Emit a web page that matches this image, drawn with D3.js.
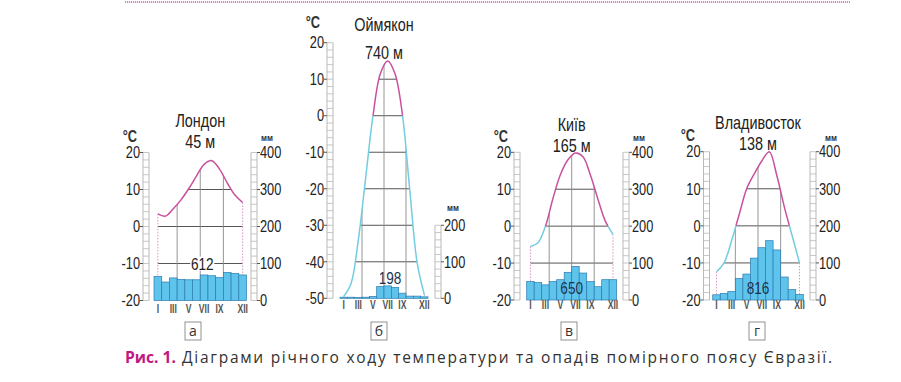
<!DOCTYPE html>
<html><head><meta charset="utf-8">
<script src="https://cdn.jsdelivr.net/npm/d3@7"></script>
<style>
body{margin:0;background:#fff;}
svg{display:block;}
</style></head><body>
<svg id="chart" width="901" height="382"></svg>
<script>
const months = ["I","II","III","IV","V","VI","VII","VIII","IX","X","XI","XII"];
const monthLabels = ["I","III","V","VII","IX","XII"];
const stationNames = ["Лондон","Оймякон","Київ","Владивосток"];
const stationHeights = ["45 м","740 м","165 м","138 м"];
const annualTotals = ["612","198","650","816"];
const panelLetters = ["а","б","в","г"];
const tempLondon = [3.4, 2.8, 4.8, 7.2, 10.2, 13.6, 16.8, 17.8, 15.5, 11.8, 8.5, 6.5];
const tempOymyakon = [-49.5, -46, -34, -17, 0, 11.5, 15, 11.5, 0.5, -20, -40, -49];
const tempKyiv = [-5.5, -4.5, 0, 7.5, 14, 18, 19.8, 18.8, 13.8, 7.3, 1.3, -2.2];
const tempVladivostok = [-12.4, -10, -4, 3, 10, 14, 17.5, 20, 13.5, 5, -2.5, -10];
const precipLondon = [65, 50, 61, 57, 56, 56, 69, 67, 62, 76, 73, 69];
const precipOymyakon = [3, 3, 2, 3, 5, 32, 34, 30, 14, 6, 6, 4];
const precipKyiv = [50, 47, 41, 50, 55, 75, 91, 73, 50, 36, 55, 55];
const precipVladivostok = [14, 18, 23, 58, 70, 113, 141, 160, 135, 62, 28, 15];
const tempTicksStd = [20, 10, 0, -10, -20];
const tempTicksOymyakon = [20, 10, 0, -10, -20, -30, -40, -50];
const precipTicksStd = [0, 100, 200, 300, 400];
const precipTicksOymyakon = [0, 100, 200];
const captionLabel = "Рис. 1.";
const captionText = "Діаграми річного ходу температури та опадів помірного поясу Євразії.";

const temps = [tempLondon, tempOymyakon, tempKyiv, tempVladivostok];
const precips = [precipLondon, precipOymyakon, precipKyiv, precipVladivostok];
const tTicks = [tempTicksStd, tempTicksOymyakon, tempTicksStd, tempTicksStd];
const pTicks = [precipTicksStd, precipTicksOymyakon, precipTicksStd, precipTicksStd];

// layout (positions only)
const layout = [
  {x0:154, x1:246.5, yTop:152.5, yBot:300.5, lr:143, rr:251, t1:127, t2:148, degX:137, degY:141.5, mmX:267, mmY:141, totT:-10, totBg:true, totDx:2, letX:193, mlDy:12.5},
  {x0:340, x1:428, yTop:42.7, yBot:298.3, lr:327, rr:435, t1:31, t2:59, degX:320, degY:27.5, mmX:453, mmY:211, totT:-44.3, totBg:false, totDx:6, letX:379, mlDy:10.5},
  {x0:526.7, x1:616.7, yTop:152.3, yBot:300, lr:514, rr:623, t1:131, t2:152, degX:508, degY:141.5, mmX:639, mmY:141, totT:-16.8, totBg:false, totDx:0, letX:569, mlDy:9},
  {x0:712.7, x1:803.3, yTop:151.7, yBot:300, lr:703.5, rr:810, t1:128.5, t2:149.5, degX:695, degY:141, mmX:831, mmY:140.5, totT:-16.8, totBg:false, totDx:0, letX:757, mlDy:9}
];

const FONT = "'Liberation Sans', Arial, sans-serif";
const SX = 0.8;
function ctext(sel, x, y, txt, o = {}) {
  return sel.append("text")
    .attr("transform", `translate(${x},${y}) scale(${o.sx || SX},1)`)
    .attr("dy", o.dy || null)
    .attr("text-anchor", o.anchor || "middle")
    .attr("font-family", FONT)
    .attr("font-size", o.size || 16)
    .attr("font-weight", o.weight || "normal")
    .attr("fill", o.fill || "#222")
    .text(txt);
}

const svg = d3.select("#chart");
const defs = svg.append("defs");
const MAG = "#c8509e", CYAN = "#72cde0", BARF = "#5ec4ec", BARS = "#2c7bb0";

// top dotted rule
svg.append("line").attr("x1",125).attr("x2",850).attr("y1",2).attr("y2",2)
  .attr("stroke","#dc86c8").attr("stroke-width",2.2).attr("stroke-dasharray","1.2,0.8");

layout.forEach((L, i) => {
  const tv = tTicks[i], pv = pTicks[i];
  const tMin = d3.min(tv), tMax = d3.max(tv), pMax = d3.max(pv);
  const y = d3.scaleLinear().domain([tMin, tMax]).range([L.yBot, L.yTop]);
  const pxPerDeg = (L.yBot - L.yTop) / (tMax - tMin);
  const p = d3.scaleLinear().domain([0, pMax]).range([L.yBot, L.yBot - pMax / 10 * pxPerDeg]);
  const xb = d3.scaleBand().domain(months).range([L.x0, L.x1]).padding(0);
  const xc = m => xb(m) + xb.bandwidth() / 2;
  const g = svg.append("g");
  const T = temps[i], P = precips[i];
  const pts = months.map((m, k) => [xc(m), y(T[k])]);

  const area = d3.area().x(d => d[0]).y0(L.yBot).y1(d => d[1]).curve(d3.curveCatmullRom.alpha(0.5));
  defs.append("clipPath").attr("id","under"+i).append("path").attr("d", area(pts));
  defs.append("clipPath").attr("id","above"+i).append("rect")
    .attr("x",0).attr("y",0).attr("width",901).attr("height",y(0));
  defs.append("clipPath").attr("id","below"+i).append("rect")
    .attr("x",0).attr("y",y(0)).attr("width",901).attr("height",400);

  // grid
  const grid = g.append("g").attr("clip-path","url(#under"+i+")");
  grid.selectAll("line.h").data(tv.filter(t => t > tMin)).join("line")
    .attr("x1",L.x0).attr("x2",L.x1).attr("y1",d=>y(d)).attr("y2",d=>y(d))
    .attr("stroke","#2a2a2a").attr("stroke-width",0.8);
  grid.selectAll("line.v").data([0.25,0.5,0.75]).join("line")
    .attr("x1",d=>L.x0+(L.x1-L.x0)*d).attr("x2",d=>L.x0+(L.x1-L.x0)*d)
    .attr("y1",L.yTop).attr("y2",L.yBot)
    .attr("stroke","#8a8a8a").attr("stroke-width",0.9);

  // dotted edge lines
  [0, 11].forEach(k => {
    g.append("line").attr("x1",pts[k][0]).attr("x2",pts[k][0])
      .attr("y1",pts[k][1]).attr("y2",L.yBot)
      .attr("stroke","#d49ac6").attr("stroke-width",1).attr("stroke-dasharray","1.5,1.5");
  });

  // bars
  g.selectAll("rect.bar").data(P).join("rect")
    .attr("x",(d,k)=>xb(months[k])).attr("width",xb.bandwidth())
    .attr("y",d=>p(d)).attr("height",d=>L.yBot-p(d))
    .attr("fill",BARF).attr("stroke",BARS).attr("stroke-width",0.7);

  // total label
  const tx = (L.x0+L.x1)/2 + L.totDx, ty = y(L.totT);
  if (L.totBg) {
    g.append("rect").attr("x",tx-12).attr("y",ty-7).attr("width",24).attr("height",14).attr("fill","#fff");
  }
  ctext(g, tx, ty, annualTotals[i], {size:17, dy:"0.36em", fill: L.totBg ? "#222" : "#1d3550"});

  // temperature curve
  const line = d3.line().curve(d3.curveCatmullRom.alpha(0.5));
  g.append("path").attr("d",line(pts)).attr("fill","none").attr("stroke",MAG).attr("stroke-width",1.5)
    .attr("clip-path","url(#above"+i+")");
  g.append("path").attr("d",line(pts)).attr("fill","none").attr("stroke",CYAN).attr("stroke-width",1.5)
    .attr("clip-path","url(#below"+i+")");

  // left ruler
  const rw = 6, rc = "#b9b9b9";
  const lg = g.append("g");
  lg.append("line").attr("x1",L.lr).attr("x2",L.lr).attr("y1",y(tMax)).attr("y2",y(tMin)).attr("stroke",rc);
  lg.append("line").attr("x1",L.lr+rw).attr("x2",L.lr+rw).attr("y1",y(tMax)).attr("y2",y(tMin)).attr("stroke",rc);
  lg.selectAll("line.m").data(d3.range(tMin, tMax + 0.01, 2)).join("line")
    .attr("x1",L.lr).attr("x2",L.lr+rw).attr("y1",d=>y(d)).attr("y2",d=>y(d)).attr("stroke",rc).attr("stroke-width",0.8);
  lg.selectAll("line.M").data(tv).join("line")
    .attr("x1",L.lr-3).attr("x2",L.lr).attr("y1",d=>y(d)).attr("y2",d=>y(d)).attr("stroke","#555");
  tv.forEach(d => ctext(lg, L.lr-3, y(d), d, {anchor:"end", dy:"0.36em", size:16}));

  // right ruler
  const rg = g.append("g");
  rg.append("line").attr("x1",L.rr).attr("x2",L.rr).attr("y1",p(pMax)).attr("y2",p(0)).attr("stroke",rc);
  rg.append("line").attr("x1",L.rr+rw).attr("x2",L.rr+rw).attr("y1",p(pMax)).attr("y2",p(0)).attr("stroke",rc);
  rg.selectAll("line.m").data(d3.range(0, pMax + 0.01, 20)).join("line")
    .attr("x1",L.rr).attr("x2",L.rr+rw).attr("y1",d=>p(d)).attr("y2",d=>p(d)).attr("stroke",rc).attr("stroke-width",0.8);
  rg.selectAll("line.M").data(pv).join("line")
    .attr("x1",L.rr+rw).attr("x2",L.rr+rw+3).attr("y1",d=>p(d)).attr("y2",d=>p(d)).attr("stroke","#555");
  pv.forEach(d => ctext(rg, L.rr+rw+3, p(d), d, {anchor:"start", dy:"0.36em", size:16}));

  // unit labels
  ctext(g, L.degX, L.degY, "°C", {anchor:"end", size:16, weight:"bold", fill:"#333"});
  ctext(g, L.mmX, L.mmY, "мм", {size:9.5, weight:"bold", fill:"#333", sx:0.85});

  // titles
  const cx = (L.x0+L.x1)/2;
  ctext(g, cx, L.t1, stationNames[i], {size:18});
  ctext(g, cx, L.t2, stationHeights[i], {size:18});

  // month labels
  monthLabels.forEach(d => ctext(g, xc(d), L.yBot+L.mlDy, d, {size:12, weight:"bold", fill:"#555", sx:0.72}));

  // panel letter box
  g.append("rect").attr("x",L.letX-8).attr("y",322).attr("width",16).attr("height",18)
    .attr("fill","none").attr("stroke","#777").attr("stroke-width",0.8);
  g.append("text").attr("x",L.letX).attr("y",336).attr("text-anchor","middle")
    .attr("font-family","'Open Sans',sans-serif").attr("font-size",14).attr("fill","#333").text(panelLetters[i]);
});

// caption
svg.append("text").attr("x",125).attr("y",363).attr("font-family","'Open Sans',sans-serif")
  .attr("font-size",15.5).attr("font-weight","bold").attr("fill","#c2187f")
  .attr("textLength",51).attr("lengthAdjust","spacingAndGlyphs").text(captionLabel);
svg.append("text").attr("x",182).attr("y",363).attr("font-family","'Open Sans',sans-serif")
  .attr("font-size",15.5).attr("fill","#333")
  .attr("textLength",650).attr("lengthAdjust","spacing").text(captionText);
</script>
</body></html>
